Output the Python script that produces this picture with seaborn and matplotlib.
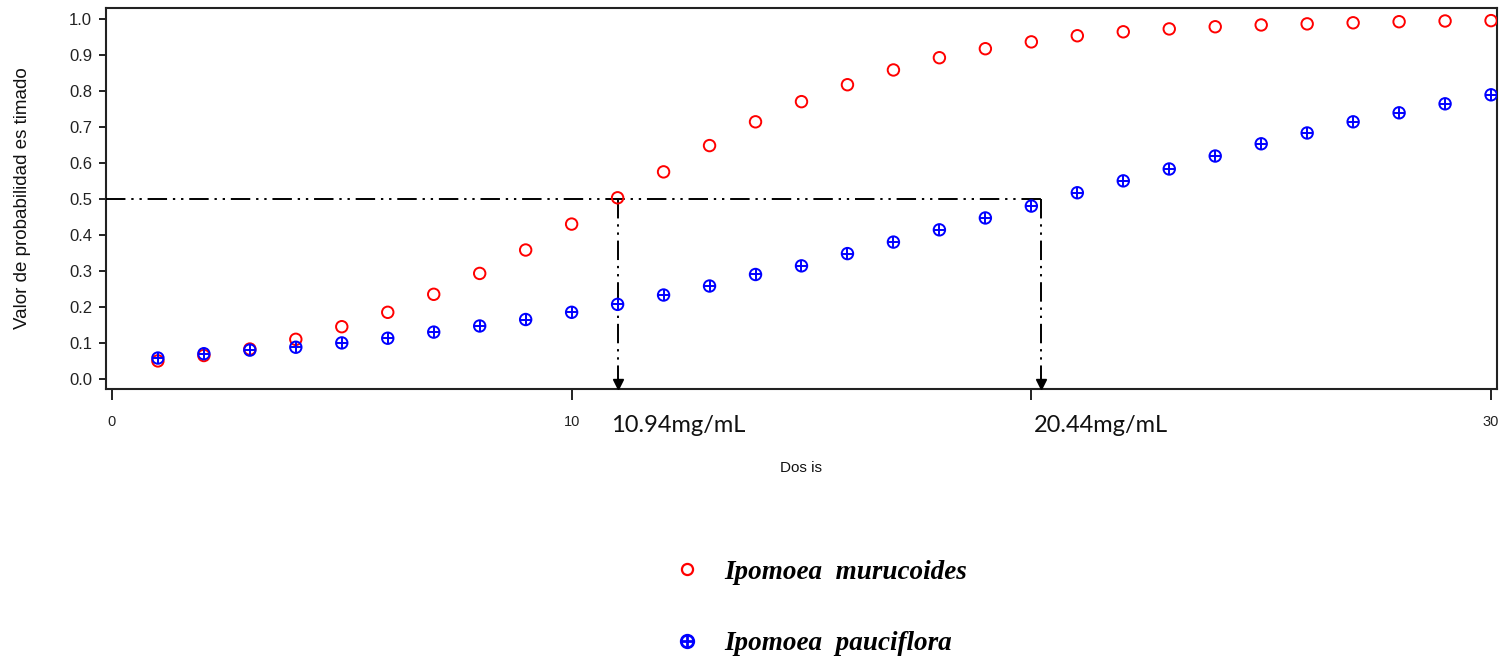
import numpy as np
import pandas as pd
import matplotlib
matplotlib.use('Agg')
import matplotlib.pyplot as plt
import seaborn as sns
from matplotlib.lines import Line2D

sns.set_style('ticks')
plt.rcParams['font.family'] = ['Liberation Sans', 'DejaVu Sans']
plt.rcParams['text.color'] = '#111111'
plt.rcParams['axes.labelcolor'] = '#111111'
plt.rcParams['xtick.color'] = '#222222'
plt.rcParams['ytick.color'] = '#222222'

# ── data ──────────────────────────────────────────────────────────────────────
dose = list(range(1, 31))
p_murucoides = [0.050, 0.065, 0.083, 0.110, 0.145, 0.185, 0.235, 0.293, 0.358, 0.430,
                0.503, 0.575, 0.648, 0.714, 0.770, 0.817, 0.858, 0.892, 0.917, 0.936,
                0.953, 0.964, 0.972, 0.978, 0.983, 0.986, 0.989, 0.992, 0.994, 0.995]
p_pauciflora = [0.058, 0.070, 0.080, 0.088, 0.100, 0.113, 0.130, 0.147, 0.165, 0.185,
                0.207, 0.233, 0.258, 0.290, 0.314, 0.348, 0.380, 0.414, 0.447, 0.480,
                0.517, 0.550, 0.583, 0.619, 0.653, 0.683, 0.714, 0.739, 0.764, 0.789]
SPECIES   = ['Ipomoea  murucoides', 'Ipomoea  pauciflora']
ld50_x    = [11.0, 20.2]                  # where the guide lines sit in the picture
ld50_text = ['10.94mg/mL', '20.44mg/mL']
XTICKS    = [0, 10, 20, 30]
XTICKLAB  = ['0', '10', '', '30']
YTICKS    = [0.0, 0.1, 0.2, 0.3, 0.4, 0.5, 0.6, 0.7, 0.8, 0.9, 1.0]

df = pd.DataFrame({'dose': dose * 2,
                   'prob': p_murucoides + p_pauciflora,
                   'species': [SPECIES[0]] * 30 + [SPECIES[1]] * 30})
d_mur = df[df.species == SPECIES[0]]
d_pau = df[df.species == SPECIES[1]]

RED, BLUE = '#ff0000', '#0000ff'

fig = plt.figure(figsize=(15.05, 6.58), dpi=100)
ax = fig.add_axes([0.0704, 0.4088, 0.9243, 0.579])

sns.scatterplot(data=d_mur, x='dose', y='prob', ax=ax, marker='o', s=68,
                facecolor='none', edgecolor=RED, linewidth=1.4, zorder=4)
sns.scatterplot(data=d_pau, x='dose', y='prob', ax=ax, marker='o', s=68,
                facecolor='none', edgecolor=BLUE, linewidth=1.4, zorder=4)
sns.scatterplot(data=d_pau, x='dose', y='prob', ax=ax, marker='+', s=68,
                color=BLUE, linewidth=1.4, zorder=4)

ax.set_xlim(-0.13, 30.13)
ax.set_ylim(-0.028, 1.03)

# LD50 guide lines
dd = (0, (10, 3, 1.2, 3, 1.2, 3))
ax.plot([-0.13, ld50_x[1]], [0.5, 0.5], color='black', lw=1.4, linestyle=dd, zorder=3)
for xv, lab in zip(ld50_x, ld50_text):
    ax.plot([xv, xv], [0.5, -0.012], color='black', lw=1.4, linestyle=dd, zorder=3)
    ax.plot([xv], [-0.014], marker='v', color='black', markersize=7, clip_on=False, zorder=5)
    ax.text(xv - 0.15, -0.128, lab, fontsize=17, family=['Lato', 'DejaVu Sans'],
            ha='left', va='center', color='#111111', clip_on=False)

for sp in ax.spines.values():
    sp.set_linewidth(1.5)
    sp.set_color('#222222')

ax.set_xticks(XTICKS)
ax.set_xticklabels(XTICKLAB)
ax.set_yticks(YTICKS)
ax.set_yticklabels([f'{v:.1f}' for v in YTICKS])
ax.tick_params(axis='y', length=5, width=1.4, pad=5, labelsize=12)
ax.tick_params(axis='x', length=8, width=1.4, pad=11, labelsize=10.5)

ax.set_xlabel('Dos is', fontsize=11)
ax.set_ylabel('Valor de probabilidad es timado', fontsize=13.5)
ax.xaxis.set_label_coords(0.5, -0.19)
ax.yaxis.set_label_coords(-0.054, 0.5)

# legend below the plot
h_mur = Line2D([], [], marker='o', linestyle='none', markersize=8,
               markerfacecolor='none', markeredgecolor=RED, markeredgewidth=1.6)
h_pau_o = Line2D([], [], marker='o', linestyle='none', markersize=9,
                 markerfacecolor='none', markeredgecolor=BLUE, markeredgewidth=2)
h_pau_p = Line2D([], [], marker='+', linestyle='none', markersize=9,
                 markeredgecolor=BLUE, markeredgewidth=2)
leg = fig.legend([h_mur, (h_pau_o, h_pau_p)], SPECIES,
                 loc='center left', bbox_to_anchor=(0.431, 0.076),
                 frameon=False, labelspacing=1.7, handlelength=1.0,
                 handletextpad=0.9,
                 prop={'family': 'Liberation Serif', 'style': 'italic',
                       'weight': 'bold', 'size': 19.5})
for t in leg.get_texts():
    t.set_color('black')

plt.savefig('out.png', dpi=100)
plt.close()
